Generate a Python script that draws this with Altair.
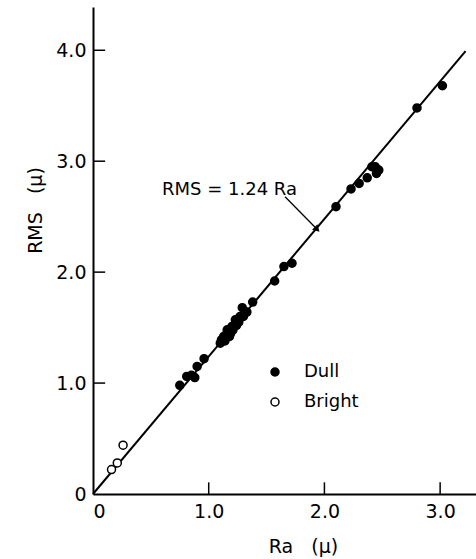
import altair as alt
import pandas as pd

# Measured roughness: arithmetic average (Ra) against root-mean-square (RMS), microns
dull_ra = [0.75, 0.81, 0.85, 0.88, 0.90, 0.96, 1.10, 1.11, 1.13, 1.14, 1.16, 1.16,
           1.18, 1.19, 1.20, 1.21, 1.23, 1.24, 1.26, 1.27, 1.29, 1.30, 1.32, 1.33,
           1.38, 1.57, 1.65, 1.72, 2.10, 2.23, 2.30, 2.37, 2.41, 2.44, 2.45, 2.47,
           2.80, 3.02]
dull_rms = [0.98, 1.06, 1.07, 1.05, 1.15, 1.22, 1.36, 1.39, 1.42, 1.38, 1.46, 1.48,
            1.42, 1.45, 1.51, 1.48, 1.57, 1.52, 1.55, 1.60, 1.68, 1.60, 1.64, 1.64,
            1.73, 1.92, 2.05, 2.08, 2.59, 2.75, 2.80, 2.85, 2.95, 2.95, 2.89, 2.92,
            3.48, 3.68]
bright_ra = [0.16, 0.21, 0.26]
bright_rms = [0.22, 0.28, 0.44]

# Fitted relation RMS = k * Ra
slope = 1.24
fit_ra = [0.0, 3.22]

x_ticks = [0, 1, 2, 3]
y_ticks = [0, 1, 2, 3, 4]
x_max = 3.31
y_max = 4.39

FONT = "DejaVu Sans"
NB = "\u00a0"

points = pd.DataFrame({
    "ra": dull_ra + bright_ra,
    "rms": dull_rms + bright_rms,
    "finish": ["Dull"] * len(dull_ra) + ["Bright"] * len(bright_ra),
})
fit = pd.DataFrame({"ra": fit_ra, "rms": [slope * r for r in fit_ra]})

xs = alt.Scale(domain=[0, x_max], nice=False, zero=True)
ys = alt.Scale(domain=[0, y_max], nice=False, zero=True)

label_expr = "datum.value == 0 ? '0' : format(datum.value, '.1f')"

x_axis = alt.Axis(
    values=x_ticks, labelExpr=label_expr, ticks=False, grid=False,
    domainColor="black", domainWidth=2, labelColor="black",
    labelFontSize=19, labelPadding=8, labelOverlap=False,
    title="Ra" + NB * 3 + "(μ)", titleFontSize=19, titleFontWeight="normal",
    titleColor="black", titleX=210, titleY=58, titleAlign="center",
    titleBaseline="alphabetic",
)
y_axis = alt.Axis(
    values=y_ticks, labelExpr=label_expr, ticks=False, grid=False,
    domainColor="black", domainWidth=2, labelColor="black",
    labelFontSize=19, labelPadding=7, labelOverlap=False, labelFlush=False,
    title="RMS" + NB * 3 + "(μ)", titleFontSize=19, titleFontWeight="normal",
    titleColor="black", titleX=-58, titleY=203, titleAlign="center",
    titleBaseline="middle",
)


def X(field):
    return alt.X(field, scale=xs, axis=x_axis)


def Y(field):
    return alt.Y(field, scale=ys, axis=y_axis)


# Fit line
line = alt.Chart(fit).mark_line(color="black", strokeWidth=2).encode(
    x=X("ra:Q"), y=Y("rms:Q"),
)

# Inward tick marks on both axes
tick_len = 0.105
xt = pd.DataFrame({"ra": x_ticks[1:], "rms": [0] * 3, "rms2": [tick_len] * 3})
yt = pd.DataFrame({"rms": y_ticks[1:], "ra": [0] * 4, "ra2": [tick_len] * 4})
x_tick_marks = alt.Chart(xt).mark_rule(color="black", strokeWidth=1.5).encode(
    x=X("ra:Q"), y=Y("rms:Q"), y2="rms2:Q",
)
y_tick_marks = alt.Chart(yt).mark_rule(color="black", strokeWidth=1.5).encode(
    x=X("ra:Q"), x2="ra2:Q", y=Y("rms:Q"),
)

# Observations
dots = alt.Chart(points).mark_circle(size=64, opacity=1, stroke="black", strokeWidth=1.5).encode(
    x=X("ra:Q"),
    y=Y("rms:Q"),
    fill=alt.Fill(
        "finish:N",
        scale=alt.Scale(domain=["Dull", "Bright"], range=["black", "white"]),
        legend=alt.Legend(
            title=None, orient="none", legendX=173, legendY=356,
            symbolType="circle", symbolSize=64, symbolStrokeColor="black",
            symbolStrokeWidth=1.5, labelFontSize=18, labelFont=FONT,
            labelColor="black", labelOffset=20, rowPadding=12, padding=0,
        ),
    ),
)

# Annotation with arrow pointing at the fit line
note_ra, note_rms = 1.763, 2.74
arrow_tip_ra = 1.93
arrow = pd.DataFrame({
    "ra": [1.66], "rms": [2.68],
    "ra2": [arrow_tip_ra], "rms2": [slope * arrow_tip_ra],
})
note = alt.Chart(pd.DataFrame({"ra": [note_ra], "rms": [note_rms], "t": ["RMS = 1.24 Ra"]})).mark_text(
    align="right", baseline="middle", fontSize=18, font=FONT, color="black"
).encode(
    x=X("ra:Q"), y=Y("rms:Q"), text="t:N",
)
arrow_shaft = alt.Chart(arrow).mark_rule(color="black", strokeWidth=1.3).encode(
    x=X("ra:Q"), y=Y("rms:Q"), x2="ra2:Q", y2="rms2:Q",
)
arrow_head = alt.Chart(arrow).mark_point(
    shape="triangle", filled=True, color="black", size=60, angle=135, opacity=1
).encode(
    x=X("ra2:Q"), y=Y("rms2:Q"),
)

chart = alt.layer(
    line, x_tick_marks, y_tick_marks, dots, note, arrow_shaft, arrow_head
).properties(
    width=383,
    height=487,
    padding={"left": 93, "top": 7, "right": 0, "bottom": 65},
    autosize=alt.AutoSizeParams(type="none"),
    background="white",
).configure(font=FONT).configure_view(strokeWidth=0)

chart.save("out.html", embed_options={"renderer": "svg", "actions": False})
